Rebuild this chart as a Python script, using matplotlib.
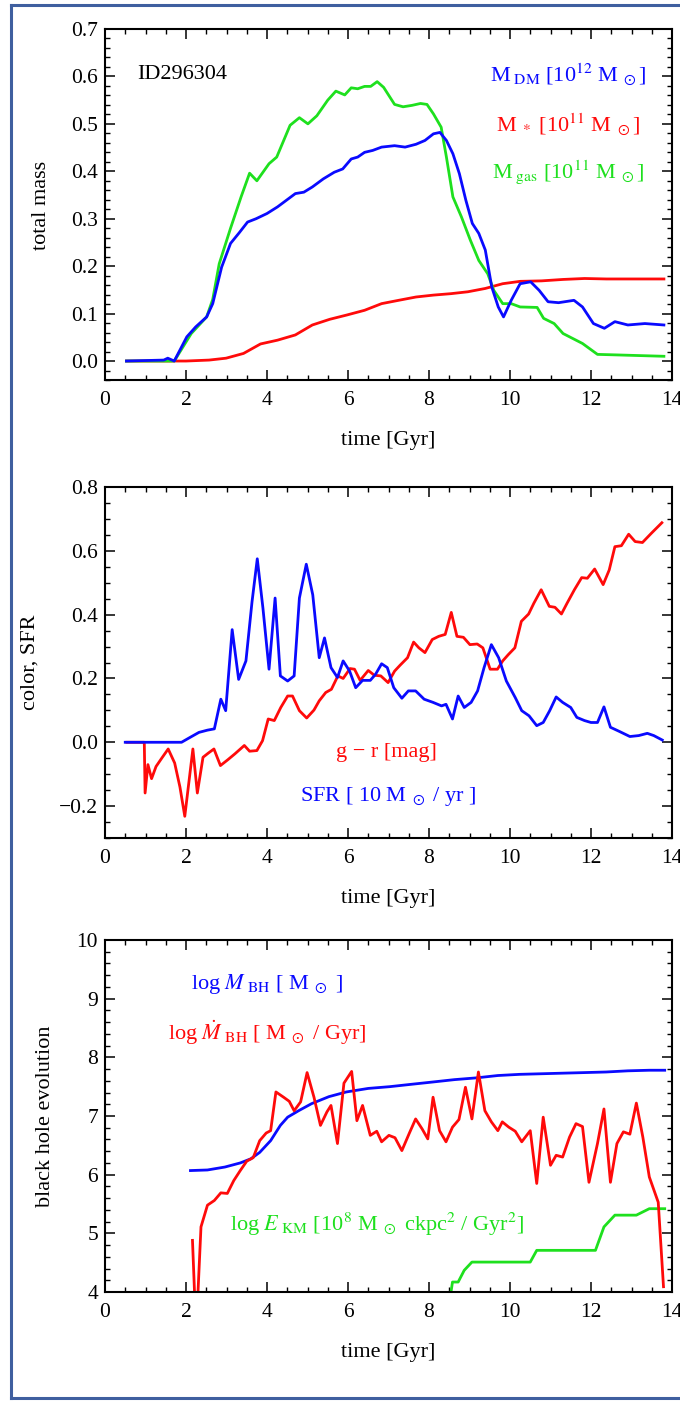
import matplotlib
matplotlib.use("Agg")
import matplotlib.pyplot as plt
from matplotlib.ticker import MultipleLocator
from matplotlib.lines import Line2D

plt.rcParams['font.family'] = ['Liberation Serif', 'DejaVu Serif']
plt.rcParams['mathtext.fontset'] = 'stix'

# ---- panel 1: total mass ----
t_gas = [0.53, 1.71, 2.13, 2.51, 2.66, 2.82, 3.10, 3.36, 3.57, 3.75, 4.05, 4.24, 4.57, 4.80,
         5.01, 5.23, 5.50, 5.70, 5.92, 6.08, 6.24, 6.41, 6.56, 6.72, 6.88, 7.15, 7.36, 7.58,
         7.79, 7.95, 8.11, 8.30, 8.43, 8.59, 8.80, 9.02, 9.23, 9.45, 9.60, 9.82, 10.03, 10.25,
         10.67, 10.83, 11.09, 11.31, 11.63, 11.79, 12.16, 12.59, 13.80]
m_gas = [0.0, 0.0, 0.058, 0.093, 0.13, 0.205, 0.28, 0.346, 0.396, 0.38, 0.416, 0.43, 0.497, 0.513,
         0.50, 0.517, 0.55, 0.569, 0.561, 0.576, 0.574, 0.579, 0.579, 0.589, 0.577, 0.541, 0.536, 0.539,
         0.543, 0.541, 0.521, 0.493, 0.43, 0.346, 0.304, 0.255, 0.212, 0.184, 0.149, 0.121, 0.121, 0.114,
         0.113, 0.09, 0.079, 0.058, 0.044, 0.037, 0.014, 0.013, 0.010]

t_dm = [0.53, 1.45, 1.55, 1.71, 2.02, 2.24, 2.51, 2.66, 2.88, 3.10, 3.31, 3.52, 3.73, 4.00, 4.26,
        4.48, 4.70, 4.91, 5.12, 5.39, 5.66, 5.87, 6.08, 6.24, 6.41, 6.61, 6.83, 7.15, 7.41, 7.68,
        7.90, 8.11, 8.27, 8.43, 8.59, 8.75, 8.91, 9.07, 9.23, 9.39, 9.55, 9.71, 9.84, 10.03, 10.25,
        10.51, 10.72, 10.94, 11.20, 11.58, 11.79, 12.06, 12.33, 12.59, 12.91, 13.33, 13.80]
m_dm = [0.0, 0.002, 0.006, 0.0, 0.051, 0.072, 0.093, 0.121, 0.198, 0.248, 0.27, 0.293, 0.30, 0.311, 0.325,
        0.339, 0.353, 0.356, 0.367, 0.384, 0.398, 0.405, 0.426, 0.43, 0.44, 0.444, 0.451, 0.454, 0.451, 0.457,
        0.465, 0.479, 0.482, 0.465, 0.437, 0.395, 0.339, 0.29, 0.269, 0.234, 0.156, 0.114, 0.093, 0.128, 0.163,
        0.167, 0.149, 0.125, 0.123, 0.128, 0.114, 0.079, 0.069, 0.083, 0.076, 0.079, 0.076]

t_star = [0.53, 2.00, 2.57, 2.99, 3.42, 3.84, 4.26, 4.70, 5.12, 5.55, 5.97, 6.41, 6.83, 7.25, 7.68,
          8.11, 8.54, 8.96, 9.39, 9.82, 10.25, 10.78, 11.31, 11.84, 12.38, 13.80]
m_star = [0.0, 0.0, 0.002, 0.006, 0.016, 0.036, 0.044, 0.055, 0.076, 0.088, 0.097, 0.107, 0.121, 0.128, 0.135,
          0.139, 0.142, 0.146, 0.153, 0.163, 0.168, 0.169, 0.172, 0.174, 0.173, 0.173]

# ---- panel 2: colour and SFR ----
t_sfr = [0.50, 1.89, 2.11, 2.32, 2.53, 2.70, 2.86, 2.98, 3.14, 3.30, 3.48, 3.63, 3.76, 3.90, 4.05,
         4.20, 4.33, 4.51, 4.67, 4.80, 4.97, 5.13, 5.29, 5.42, 5.58, 5.74, 5.88, 6.04, 6.19, 6.36,
         6.55, 6.68, 6.83, 6.97, 7.13, 7.33, 7.49, 7.67, 7.88, 8.10, 8.31, 8.42, 8.58, 8.72, 8.87,
         9.04, 9.20, 9.36, 9.54, 9.72, 9.91, 10.13, 10.29, 10.47, 10.66, 10.82, 10.98, 11.14, 11.30,
         11.50, 11.65, 11.84, 12.00, 12.16, 12.32, 12.48, 12.70, 12.96, 13.18, 13.39, 13.55, 13.76]
sfr = [0.0, 0.0, 0.016, 0.031, 0.038, 0.042, 0.135, 0.099, 0.353, 0.197, 0.255, 0.44, 0.575, 0.42, 0.229,
       0.452, 0.208, 0.192, 0.208, 0.452, 0.558, 0.462, 0.265, 0.327, 0.234, 0.203, 0.255, 0.223, 0.171, 0.194,
       0.194, 0.213, 0.246, 0.234, 0.171, 0.138, 0.161, 0.161, 0.135, 0.125, 0.114, 0.119, 0.073, 0.145, 0.109,
       0.125, 0.161, 0.234, 0.306, 0.265, 0.192, 0.14, 0.099, 0.083, 0.052, 0.062, 0.099, 0.142, 0.125,
       0.109, 0.078, 0.068, 0.062, 0.062, 0.111, 0.047, 0.034, 0.018, 0.021, 0.028, 0.021, 0.007]

t_gr = [0.54, 0.97, 0.99, 1.06, 1.15, 1.26, 1.40, 1.56, 1.72, 1.85, 1.97, 2.17, 2.28, 2.42, 2.55,
        2.69, 2.85, 3.03, 3.21, 3.44, 3.57, 3.75, 3.89, 4.03, 4.18, 4.34, 4.51, 4.63, 4.80, 4.98,
        5.16, 5.29, 5.45, 5.59, 5.75, 5.88, 6.05, 6.16, 6.30, 6.50, 6.65, 6.81, 6.99, 7.15, 7.29,
        7.47, 7.62, 7.75, 7.90, 8.08, 8.24, 8.40, 8.55, 8.69, 8.85, 9.01, 9.19, 9.33, 9.51, 9.69,
        9.82, 9.96, 10.12, 10.28, 10.46, 10.59, 10.77, 10.97, 11.11, 11.27, 11.41, 11.59, 11.77,
        11.91, 12.09, 12.30, 12.45, 12.59, 12.75, 12.93, 13.09, 13.27, 13.49, 13.75]
g_r = [0.0, 0.0, -0.159, -0.07, -0.114, -0.076, -0.05, -0.021, -0.065, -0.14, -0.232, -0.021, -0.159, -0.047, -0.034,
       -0.021, -0.073, -0.055, -0.036, -0.01, -0.028, -0.026, 0.005, 0.073, 0.068, 0.109, 0.145, 0.145, 0.099, 0.076,
       0.101, 0.13, 0.156, 0.166, 0.208, 0.2, 0.231, 0.229, 0.194, 0.225, 0.21, 0.208, 0.187, 0.223, 0.242,
       0.265, 0.314, 0.296, 0.281, 0.322, 0.332, 0.338, 0.407, 0.332, 0.329, 0.306, 0.308, 0.296, 0.229, 0.229,
       0.255, 0.275, 0.296, 0.379, 0.402, 0.436, 0.478, 0.426, 0.423, 0.402, 0.436, 0.478, 0.516,
       0.514, 0.543, 0.494, 0.54, 0.613, 0.616, 0.652, 0.629, 0.626, 0.655, 0.688]

# ---- panel 3: black hole ----
t_mbh = [2.11, 2.53, 2.96, 3.34, 3.60, 3.82, 4.09, 4.33, 4.51, 4.78, 5.10, 5.53, 5.96, 6.50, 7.03,
         7.56, 8.10, 8.63, 9.17, 9.70, 10.24, 10.77, 11.30, 11.84, 12.37, 12.91, 13.44, 13.82]
log_mbh = [6.07, 6.08, 6.13, 6.20, 6.27, 6.38, 6.58, 6.84, 6.98, 7.09, 7.21, 7.33, 7.41, 7.47, 7.50,
           7.54, 7.58, 7.62, 7.65, 7.69, 7.71, 7.72, 7.73, 7.74, 7.75, 7.77, 7.78, 7.78]

t_mdot = [2.16, 2.25, 2.37, 2.53, 2.70, 2.86, 3.02, 3.18, 3.34, 3.50, 3.66, 3.82, 3.98, 4.09, 4.22,
          4.41, 4.55, 4.67, 4.83, 4.99, 5.16, 5.32, 5.48, 5.58, 5.74, 5.90, 6.09, 6.22, 6.36, 6.55,
          6.71, 6.83, 7.01, 7.16, 7.33, 7.51, 7.67, 7.83, 7.97, 8.10, 8.26, 8.42, 8.58, 8.74, 8.90,
          9.06, 9.22, 9.38, 9.54, 9.70, 9.81, 9.97, 10.13, 10.29, 10.50, 10.66, 10.82, 11.00, 11.14,
          11.30, 11.47, 11.63, 11.79, 11.95, 12.16, 12.32, 12.48, 12.64, 12.80, 12.96, 13.12, 13.28,
          13.44, 13.66, 13.79]
log_mdot = [4.88, 3.3, 5.11, 5.48, 5.56, 5.69, 5.68, 5.90, 6.07, 6.23, 6.29, 6.58, 6.71, 6.75, 7.41,
            7.32, 7.25, 7.09, 7.24, 7.74, 7.32, 6.84, 7.07, 7.18, 6.53, 7.56, 7.76, 6.92, 7.18, 6.67,
            6.74, 6.56, 6.67, 6.63, 6.41, 6.70, 6.95, 6.78, 6.61, 7.32, 6.75, 6.56, 6.81, 6.94, 7.49,
            6.95, 7.75, 7.09, 6.90, 6.75, 6.90, 6.81, 6.74, 6.56, 6.75, 5.85, 6.98, 6.16, 6.33,
            6.30, 6.64, 6.87, 6.82, 5.87, 6.53, 7.12, 5.87, 6.53, 6.73, 6.69, 7.22, 6.64,
            5.96, 5.53, 4.09]

t_ekm = [8.50, 8.58, 8.72, 8.87, 9.06, 10.50, 10.66, 12.11, 12.32, 12.59, 13.12, 13.44, 13.82]
log_ekm = [3.8, 4.17, 4.17, 4.37, 4.51, 4.51, 4.71, 4.71, 5.11, 5.31, 5.31, 5.42, 5.42]

BLUE = '#0a0aff'
RED = '#ff0a0a'
GREEN = '#1ee01e'

W, H = 680, 1402
fig = plt.figure(figsize=(W / 100, H / 100), dpi=100)


def make_axes(top, bottom):
    ax = fig.add_axes([105 / W, 1 - bottom / H, 567 / W, (bottom - top) / H])
    ax.set_xlim(0, 14)
    ax.xaxis.set_major_locator(MultipleLocator(2))
    ax.xaxis.set_minor_locator(MultipleLocator(0.5))
    ax.tick_params(which='both', direction='in', top=True, right=True, labelsize=15.5)
    ax.tick_params(which='major', length=7, width=1.1)
    ax.tick_params(which='minor', length=3.5, width=1.0)
    ax.tick_params(axis='x', pad=8)
    ax.tick_params(axis='y', pad=5)
    for s in ax.spines.values():
        s.set_linewidth(1.5)
    return ax


lw = 2.0

# panel 1
ax1 = make_axes(29, 380)
ax1.set_ylim(-0.04, 0.7)
ax1.yaxis.set_major_locator(MultipleLocator(0.1))
ax1.yaxis.set_minor_locator(MultipleLocator(0.02))
ax1.plot(t_star, m_star, color=RED, lw=lw)
ax1.plot(t_gas, m_gas, color=GREEN, lw=lw)
ax1.plot(t_dm, m_dm, color=BLUE, lw=lw)
ax1.text(0.8, 0.605, 'ID296304', fontsize=16, va='center', ha='left')
ax1.text(11.43, 0.603, r'M$_{\rm\ DM}$ [10$^{12}$ M$_{\ \odot}$]', color=BLUE, fontsize=16, ha='center', va='center')
ax1.text(11.43, 0.498, r'M$_{\ *}$ [10$^{11}$ M$_{\ \odot}$]', color=RED, fontsize=16, ha='center', va='center')
ax1.text(11.43, 0.399, r'M$_{\rm\ gas}$ [10$^{11}$ M$_{\ \odot}$]', color=GREEN, fontsize=16, ha='center', va='center')

# panel 2
ax2 = make_axes(487, 838)
ax2.set_ylim(-0.3, 0.8)
ax2.yaxis.set_major_locator(MultipleLocator(0.2))
ax2.yaxis.set_minor_locator(MultipleLocator(0.05))
ax2.plot(t_gr, g_r, color=RED, lw=lw)
ax2.plot(t_sfr, sfr, color=BLUE, lw=lw)
ax2.text(6.94, -0.031, 'g \u2212 r [mag]', color=RED, fontsize=16, ha='center', va='center')
ax2.text(6.99, -0.171, r'SFR [ 10 M$_{\ \odot}$ / yr ]', color=BLUE, fontsize=16, ha='center', va='center')

# panel 3
ax3 = make_axes(940, 1292)
ax3.set_ylim(4, 10)
ax3.yaxis.set_major_locator(MultipleLocator(1))
ax3.yaxis.set_minor_locator(MultipleLocator(0.2))
ax3.plot(t_ekm, log_ekm, color=GREEN, lw=lw)
ax3.plot(t_mbh, log_mbh, color=BLUE, lw=lw)
ax3.plot(t_mdot, log_mdot, color=RED, lw=lw)
ax3.text(4.0, 9.25, r'log $M_{\rm\ BH}$ [ M$_{\ \odot}$ ]', color=BLUE, fontsize=16, ha='center', va='center')
ax3.text(4.0, 8.43, r'log $\dot{M}_{\rm\ BH}$ [ M$_{\ \odot}$ / Gyr]', color=RED, fontsize=16, ha='center', va='center')
ax3.text(6.71, 5.16, r'log $E_{\rm\ KM}$ [10$^8$ M$_{\ \odot}$ ckpc$^2$ / Gyr$^2$]', color=GREEN, fontsize=16,
         ha='center', va='center')

# axis titles
for y in (440, 898, 1352):
    fig.text(388 / W, 1 - y / H, 'time [Gyr]', fontsize=16, ha='center', va='center')
fig.text(42 / W, 1 - 205 / H, 'total mass', fontsize=16, rotation=90, ha='center', va='center')
fig.text(30 / W, 1 - 662 / H, 'color, SFR', fontsize=16, rotation=90, ha='center', va='center')
fig.text(46 / W, 1 - 1116 / H, 'black hole evolution', fontsize=16, rotation=90, ha='center', va='center')

# blue frame round the figure
frame = '#3f5f9f'
fig.add_artist(Line2D([11 / W, 11 / W], [1 - 5 / H, 1 - 1398 / H], color=frame, lw=2.2))
fig.add_artist(Line2D([11 / W, 1.0], [1 - 5 / H, 1 - 5 / H], color=frame, lw=2.2))
fig.add_artist(Line2D([11 / W, 1.0], [1 - 1398 / H, 1 - 1398 / H], color=frame, lw=2.2))

fig.savefig('out.png', dpi=100)
